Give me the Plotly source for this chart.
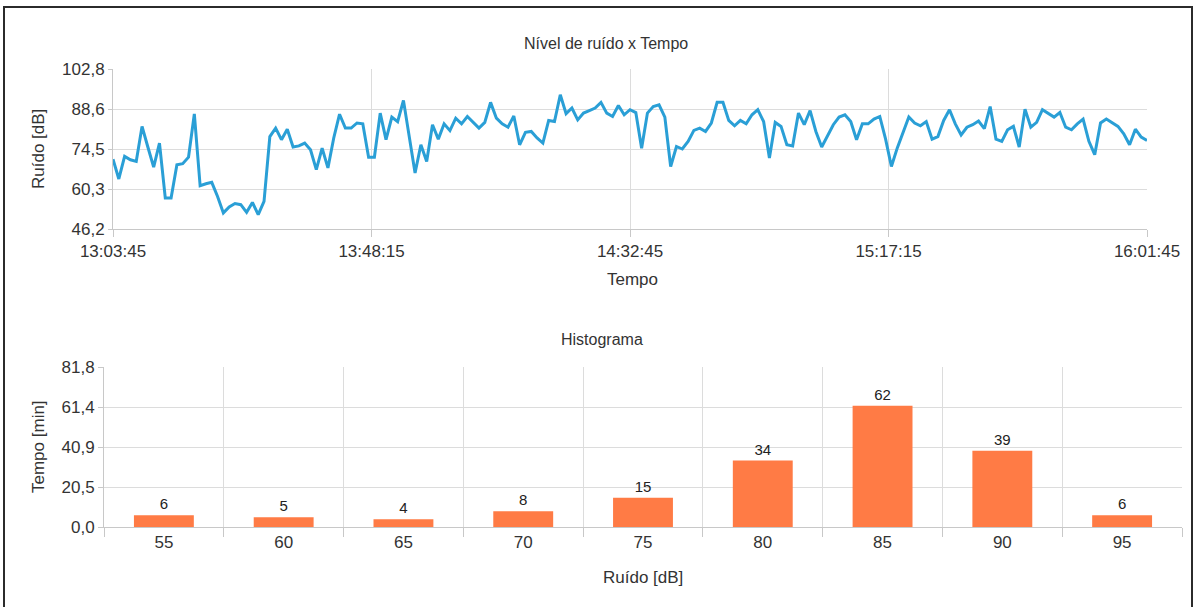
import pandas as pd
import plotly.graph_objects as go

W, H = 1195, 607

# ---------------- data ----------------
start_time = "2000-01-01 13:03:45"
ruido_db = [
    70.9, 63.9, 71.9, 70.7, 70.1, 82.5, 75.2, 68.1, 76.6, 57.2,
    57.2, 68.9, 69.3, 71.6, 86.9, 61.5, 62.2, 62.7, 57.7, 51.9,
    54.0, 55.2, 54.8, 52.1, 55.6, 51.3, 56.0, 78.9, 81.9, 77.8,
    81.5, 75.2, 75.6, 76.6, 74.2, 67.2, 74.8, 67.8, 78.4, 86.8,
    81.9, 81.9, 83.7, 83.4, 71.6, 71.6, 87.2, 77.8, 85.8, 84.2,
    91.7, 78.9, 66.0, 76.0, 70.1, 83.1, 78.0, 83.4, 81.0, 85.4,
    83.4, 86.0, 83.9, 81.9, 83.9, 91.0, 85.4, 83.4, 82.2, 86.2,
    76.0, 80.4, 80.7, 78.4, 76.6, 84.6, 84.2, 93.7, 87.0, 89.0,
    84.8, 87.2, 88.1, 89.0, 91.0, 87.2, 86.0, 89.9, 86.6, 88.4,
    87.4, 74.8, 87.2, 89.5, 90.1, 85.8, 68.3, 75.4, 74.5, 77.2,
    81.1, 81.9, 80.7, 83.7, 91.0, 91.0, 84.6, 82.7, 84.6, 83.4,
    86.6, 88.4, 84.2, 71.3, 83.9, 82.5, 76.0, 75.6, 87.2, 83.1,
    88.1, 80.7, 75.2, 78.9, 83.1, 85.8, 86.6, 84.2, 77.8, 83.4,
    83.4, 85.1, 86.0, 78.0, 68.3, 74.8, 80.7, 85.8, 83.7, 82.7,
    84.2, 78.0, 78.9, 84.6, 88.4, 83.4, 79.5, 82.2, 83.1, 84.4,
    81.7, 89.5, 78.0, 77.2, 81.3, 82.5, 75.2, 88.6, 82.2, 83.9,
    88.4, 87.2, 85.8, 87.4, 82.2, 81.3, 83.4, 85.1, 77.2, 72.5,
    83.7, 85.1, 83.7, 82.5, 79.9, 76.0, 81.5, 78.7, 77.5,
]
tempo = pd.date_range(start_time, periods=len(ruido_db), freq="1min")

time_tick_labels = ["13:03:45", "13:48:15", "14:32:45", "15:17:15", "16:01:45"]
line_y_ticks = [46.2, 60.35, 74.5, 88.65, 102.8]
line_y_labels = ["46,2", "60,3", "74,5", "88,6", "102,8"]

hist_bins = ["55", "60", "65", "70", "75", "80", "85", "90", "95"]
hist_minutes = [6, 5, 4, 8, 15, 34, 62, 39, 6]
hist_y_ticks = [0.0, 20.45, 40.9, 61.35, 81.8]
hist_y_labels = ["0,0", "20,5", "40,9", "61,4", "81,8"]

# ---------------- style ----------------
FONT = "Liberation Sans, Arial, sans-serif"
TXT = "#333333"
GRID = "#dcdcdc"
AXIS = "#c8c8c8"
LINE_COLOR = "#2a9fd6"
BAR_COLOR = "#ff7b45"


def px_x(x):
    return x / W


def px_y(y):
    return 1 - y / H


tick_vals_time = [pd.Timestamp("2000-01-01 " + t) for t in time_tick_labels]

fig = go.Figure()
fig.add_trace(go.Scatter(
    x=tempo, y=ruido_db, mode="lines",
    line=dict(color=LINE_COLOR, width=3),
    xaxis="x", yaxis="y", showlegend=False, hoverinfo="skip",
))
fig.add_trace(go.Bar(
    x=hist_bins, y=hist_minutes, marker=dict(color=BAR_COLOR, line=dict(width=0)),
    width=0.5, text=[str(v) for v in hist_minutes], textposition="outside",
    textfont=dict(family=FONT, size=15, color="#222222"), cliponaxis=False,
    xaxis="x2", yaxis="y2", showlegend=False, hoverinfo="skip",
))

common_axis = dict(
    showline=True, linecolor=AXIS, linewidth=1,
    showgrid=True, gridcolor=GRID, gridwidth=1,
    ticks="outside", tickcolor=AXIS,
    tickfont=dict(family=FONT, size=17, color=TXT),
    zeroline=False, fixedrange=True, automargin=False,
)

fig.update_layout(
    width=W, height=H,
    margin=dict(l=0, r=0, t=0, b=0, pad=0, autoexpand=False),
    paper_bgcolor="white", plot_bgcolor="white",
    font=dict(family=FONT, color=TXT),
    hovermode=False,
    xaxis=dict(
        **common_axis, type="date",
        domain=[px_x(113), px_x(1147)], anchor="y",
        range=[tempo[0], tempo[-1]],
        tickvals=tick_vals_time, ticktext=time_tick_labels, ticklen=7,
    ),
    yaxis=dict(
        **common_axis,
        domain=[px_y(229), px_y(69)], anchor="x",
        range=[46.2, 102.8], tickvals=line_y_ticks, ticktext=line_y_labels, ticklen=4,
    ),
    xaxis2=dict(
        **common_axis, type="category",
        domain=[px_x(104), px_x(1182)], anchor="y2",
        tickson="boundaries", ticklen=9,
    ),
    yaxis2=dict(
        **common_axis,
        domain=[px_y(527), px_y(367)], anchor="x2",
        range=[0, 81.8], tickvals=hist_y_ticks, ticktext=hist_y_labels, ticklen=5,
    ),
    bargap=0.5,
)

annots = [
    ("Nível de ruído x Tempo", 606, 43, 16, 0),
    ("Tempo", 632, 279, 17, 0),
    ("Histograma", 602, 339, 16, 0),
    ("Ruído [dB]", 643, 577, 17, 0),
    ("Ruído [dB]", 38, 149, 17, -90),
    ("Tempo [min]", 38, 447, 17, -90),
]
for text, x, y, size, ang in annots:
    fig.add_annotation(
        text=text, xref="paper", yref="paper", x=px_x(x), y=px_y(y),
        xanchor="center", yanchor="middle", showarrow=False, textangle=ang,
        font=dict(family=FONT, size=size, color=TXT),
    )

# outer frame
fig.add_shape(
    type="rect", xref="paper", yref="paper",
    x0=px_x(4), x1=px_x(1192), y0=px_y(620), y1=px_y(7),
    line=dict(color="#2b2b2b", width=2), fillcolor="rgba(0,0,0,0)", layer="above",
)

fig.write_html(
    "out.html",
    config={"displayModeBar": False, "staticPlot": True},
    post_script="document.body.style.margin='0px';document.body.style.overflow='hidden';",
)
